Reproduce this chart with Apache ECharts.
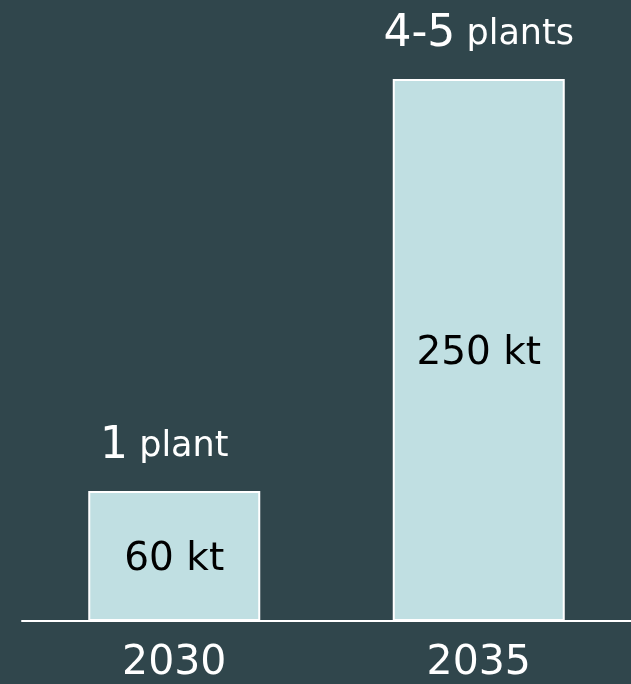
<!DOCTYPE html>
<html><head><meta charset="utf-8">
<script src="https://cdn.jsdelivr.net/npm/echarts@6/dist/echarts.min.js"></script>
<style>html,body{margin:0;padding:0;background:#30464c;}#c{width:631px;height:684px;}</style>
</head><body><div id="c"></div>
<script>
const categories = ['2030', '2035'];
const values = [60, 250];
const valueLabels = ['60 kt', '250 kt'];
const countLabels = ['1', '4-5'];
const unitLabels = ['plant', 'plants'];

const FONT = '"DejaVu Sans", sans-serif';
const topLabelPadding = [[0, 20, 0, 0], [0, 0, 0, 0]];
const chart = echarts.init(document.getElementById('c'));
chart.setOption({
  backgroundColor: '#30464c',
  animation: false,
  grid: { left: 22, right: -2, top: 14, bottom: 61 },
  xAxis: {
    type: 'category', data: categories,
    axisLine: { lineStyle: { color: '#ffffff', width: 2 } },
    axisTick: { show: false },
    axisLabel: { color: '#ffffff', fontSize: 41, fontFamily: FONT, margin: 22 }
  },
  yAxis: { type: 'value', min: 0, max: 280, show: false, splitLine: { show: false } },
  series: [
    {
      type: 'bar', data: values, barWidth: 172, z: 2,
      itemStyle: { color: '#c0dfe2', borderColor: '#ffffff', borderWidth: 2 },
      label: {
        show: true, position: 'inside', offset: [0, 4], color: '#000000', fontSize: 39, fontFamily: FONT,
        formatter: p => valueLabels[p.dataIndex]
      }
    },
    {
      type: 'bar', barWidth: 172, barGap: '-100%', z: 1,
      data: values.map((v, i) => ({ value: v, label: { padding: topLabelPadding[i] } })),
      itemStyle: { color: 'transparent' },
      label: {
        show: true, position: 'top', distance: 22,
        formatter: p => '{big|' + countLabels[p.dataIndex] + '}{small| ' + unitLabels[p.dataIndex] + '}',
        rich: {
          big: { fontSize: 44, color: '#ffffff', fontFamily: FONT },
          small: { fontSize: 35, color: '#ffffff', fontFamily: FONT }
        }
      }
    }
  ]
});
</script></body></html>
